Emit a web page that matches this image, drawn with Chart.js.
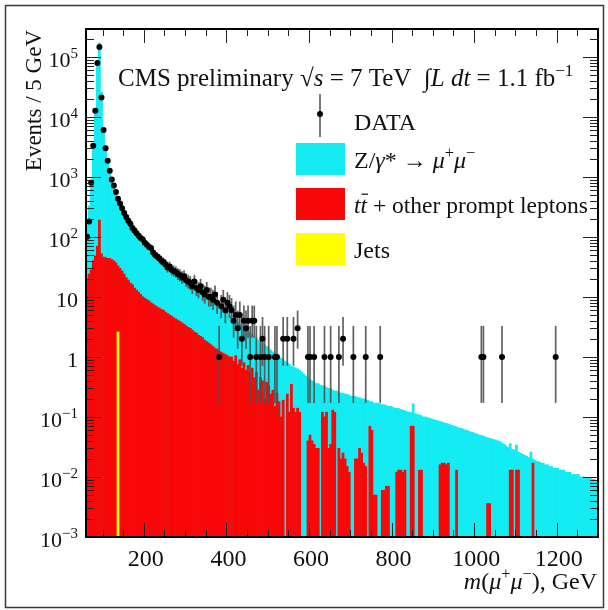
<!DOCTYPE html>
<html>
<head>
<meta charset="utf-8">
<script src="https://cdn.jsdelivr.net/npm/chart.js@4.4.1/dist/chart.umd.min.js"></script>
<style>
  body { margin: 0; background: #fff; }
  #wrap { width: 608px; height: 610px; position: relative; }
</style>
</head>
<body>
<div id="wrap"><canvas id="massChart"></canvas></div>
<script>
// 5 GeV bins starting at 60 GeV, one row = 50 GeV
const binLow = 60;
const binWidth = 5;

// top of the stacked MC (Z/gamma* + prompt + jets), events / 5 GeV
const mcTotal = [
  190, 330, 900, 3100, 11500, 72000, 170000, 26000, 6400, 3100,
  1800, 1250, 880, 700, 540, 440, 350, 290, 245, 210,
  180, 160, 142, 126, 112, 102, 93, 86, 78, 72,
  66, 60, 55, 50, 46, 42, 39, 36, 33, 31,
  29, 27, 25, 24, 22, 21, 19.5, 18.5, 17.5, 16.5,
  15.5, 14.6, 13.8, 13, 12.3, 11.6, 11, 10.4, 9.8, 9.3,
  8.8, 8.3, 7.8, 7.3, 6.9, 6.5, 6.1, 5.7, 5.3, 5.0,
  4.7, 4.4, 4.1, 3.8, 3.5, 3.3, 3.1, 2.9, 2.7, 2.5,
  2.35, 2.2, 2.05, 1.9, 1.8, 1.7, 1.6, 1.5, 1.4, 1.3,
  1.22, 1.15, 1.08, 1.0, 0.95, 0.9, 0.85, 0.8, 0.75, 0.7,
  0.68, 0.66, 0.63, 0.6, 0.56, 0.52, 0.48, 0.45, 0.42, 0.4,
  0.38, 0.36, 0.36, 0.34, 0.33, 0.33, 0.31, 0.30, 0.30, 0.28,
  0.27, 0.27, 0.26, 0.25, 0.25, 0.24, 0.24, 0.23, 0.22, 0.22,
  0.22, 0.21, 0.21, 0.20, 0.20, 0.19, 0.19, 0.18, 0.18, 0.17,
  0.17, 0.17, 0.165, 0.16, 0.16, 0.155, 0.15, 0.15, 0.145, 0.14,
  0.14, 0.138, 0.133, 0.13, 0.127, 0.122, 0.12, 0.118, 0.165, 0.113,
  0.11, 0.108, 0.105, 0.1, 0.1, 0.097, 0.095, 0.092, 0.09, 0.088,
  0.086, 0.084, 0.082, 0.08, 0.078, 0.076, 0.074, 0.072, 0.07, 0.068,
  0.066, 0.065, 0.063, 0.061, 0.06, 0.058, 0.056, 0.055, 0.053, 0.052,
  0.05, 0.049, 0.048, 0.046, 0.045, 0.044, 0.043, 0.042, 0.041, 0.04,
  0.039, 0.037, 0.035, 0.033, 0.031, 0.036, 0.029, 0.028, 0.034, 0.026,
  0.025, 0.024, 0.023, 0.022, 0.021, 0.026, 0.02, 0.019, 0.018, 0.018,
  0.017, 0.017, 0.016, 0.016, 0.015, 0.015, 0.014, 0.014, 0.014, 0.013,
  0.013, 0.013, 0.012, 0.012, 0.012, 0.011, 0.011, 0.011, 0.011, 0.010,
  0.010, 0.010, 0.0098, 0.0096, 0.0094, 0.0092, 0.009, 0.0088
];

// ttbar + other prompt leptons (0 = empty bin)
const prompt = [
  20, 24, 28, 40, 48, 70, 190, 52, 46, 45,
  44, 44, 42, 40, 37, 33, 30, 27, 24, 21,
  19, 17, 16, 14, 13, 12, 11, 10, 9.5, 9,
  8.6, 8, 7.6, 7.2, 6.8, 6.5, 6.2, 6, 5.6, 5.3,
  5, 4.8, 4.5, 4.3, 4.1, 3.9, 3.7, 3.5, 3.3, 3.1,
  3, 2.8, 2.6, 2.5, 2.3, 2.2, 2.1, 1.9, 1.8, 1.7,
  1.6, 1.5, 1.4, 1.35, 1.25, 1.2, 1.15, 1.1, 1.05, 1.0,
  1.0, 0.85, 1.05, 0.75, 0.9, 0.65, 0.8, 0.6, 0.72, 0.55,
  0.65, 0.45, 0.55, 0.28, 0.45, 0.4, 0.2, 0.38, 0.33, 0.24,
  0.28, 0.15, 0.25, 0.18, 0.1, 0.19, 0, 0.24, 0.12, 0.35,
  0.14, 0.12, 0.14, 0.12, 0, 0, 0, 0.04, 0.05, 0.04,
  0.035, 0.03, 0.03, 0, 0.12, 0.1, 0.12, 0.03, 0.035, 0.13,
  0.12, 0, 0.03, 0.02, 0.025, 0.02, 0.015, 0.012, 0, 0,
  0.02, 0.02, 0.03, 0.025, 0.017, 0.015, 0, 0.07, 0.06, 0.005,
  0.005, 0, 0, 0.006, 0.006, 0.007, 0.007, 0, 0, 0,
  0.012, 0.013, 0.013, 0.012, 0.013, 0, 0, 0.07, 0.07, 0,
  0, 0.013, 0.013, 0, 0, 0, 0, 0, 0, 0,
  0, 0.016, 0.017, 0.017, 0.016, 0.017, 0, 0, 0, 0.013,
  0, 0, 0, 0, 0, 0, 0, 0, 0, 0,
  0, 0, 0, 0, 0.0036, 0.0036, 0, 0, 0, 0,
  0, 0, 0, 0, 0, 0.013, 0.013, 0, 0.013, 0.013,
  0, 0, 0, 0, 0, 0, 0.017, 0, 0, 0
];

// jets: one filled bin
const jetsBinLow = [135];
const jetsEvents = [2.6];

// observed events per bin (0 = no point)
const dataEvents = [
  100, 180, 800, 3300, 12600, 79000, 145000, 21000, 6000, 3000,
  1850, 1260, 900, 720, 560, 430, 360, 300, 250, 215,
  185, 165, 140, 128, 115, 104, 96, 90, 80, 74,
  68, 65, 55, 50, 47, 44, 40, 38, 35, 31,
  32, 28, 27, 26, 24, 23, 21, 22, 19, 18,
  17, 15, 18, 14, 13, 15, 12, 11, 13, 10,
  10, 9, 11, 8, 1, 7, 9, 6, 8, 7,
  6, 4, 5, 3, 5, 2, 4, 3, 4, 1,
  4, 4, 1, 0, 1, 2, 1, 0, 1, 0,
  0, 1, 1, 0, 0, 2, 0, 2, 0, 0,
  2, 0, 3, 0, 0, 0, 0, 1, 1, 0,
  1, 0, 0, 0, 0, 1, 0, 0, 1, 0,
  0, 0, 1, 0, 2, 0, 0, 0, 0, 1,
  0, 0, 0, 0, 0, 1, 0, 0, 0, 0,
  0, 0, 1, 0, 0, 0, 0, 0, 0, 0,
  0, 0, 0, 0, 0, 0, 0, 0, 0, 0,
  0, 0, 0, 0, 0, 0, 0, 0, 0, 0,
  0, 0, 0, 0, 0, 0, 0, 0, 0, 0,
  0, 0, 0, 0, 0, 0, 0, 0, 0, 0,
  0, 1, 1, 0, 0, 0, 0, 0, 0, 0,
  0, 1, 0, 0, 0, 0, 0, 0, 0, 0,
  0, 0, 0, 0, 0, 0, 0, 0, 0, 0,
  0, 0, 0, 0, 0, 0, 0, 1, 0, 0
];

const xTickLabels = [200, 400, 600, 800, 1000, 1200];
const yDecades = [-3, -2, -1, 0, 1, 2, 3, 4, 5];

const SERIF = '"Liberation Serif", "DejaVu Serif", serif';
const CYAN = '#12ecf2';
const RED = '#f80808';
const YELLOW = '#ffff00';

const center = i => binLow + binWidth * (i + 0.5);
const toBars = arr => arr.map((v, i) => ({ x: center(i), y: v > 0 ? v : null }));

const dataPoints = [];
dataEvents.forEach((n, i) => { if (n > 0) dataPoints.push({ x: center(i), y: n }); });

// Poisson 68% interval (Wilson-Hilferty approximation)
function poissonLow(n) {
  return n * Math.pow(1 - 1 / (9 * n) - 1 / (3 * Math.sqrt(n)), 3);
}
function poissonHigh(n) {
  const m = n + 1;
  return m * Math.pow(1 - 1 / (9 * m) + 1 / (3 * Math.sqrt(m)), 3);
}

// draw text made of pieces: {t, it, sup, bar}
function drawRich(ctx, parts, x, y, size, align) {
  const fontOf = p => (p.it ? 'italic ' : '') + (p.sup ? size * 0.68 : size) + 'px ' + SERIF;
  let total = 0;
  const widths = parts.map(p => { ctx.font = fontOf(p); const w = ctx.measureText(p.t).width; total += w; return w; });
  let cx = align === 'right' ? x - total : align === 'center' ? x - total / 2 : x;
  parts.forEach((p, k) => {
    ctx.font = fontOf(p);
    ctx.textAlign = 'left';
    ctx.textBaseline = 'alphabetic';
    ctx.fillText(p.t, cx, p.sup ? y - size * 0.42 : y);
    if (p.bar) {
      ctx.save();
      ctx.lineWidth = 1.2;
      ctx.beginPath();
      const by = y - size * p.bar;
      ctx.moveTo(cx + 1, by);
      ctx.lineTo(cx + widths[k] + 1, by);
      ctx.stroke();
      ctx.restore();
    }
    cx += widths[k];
  });
}

const errorBars = {
  id: 'errorBars',
  beforeDatasetDraw(chart, args) {
    if (args.index !== 0) return;
    const { ctx, chartArea: a, scales: { x, y } } = chart;
    ctx.save();
    ctx.beginPath();
    ctx.rect(a.left, a.top, a.right - a.left, a.bottom - a.top);
    ctx.clip();
    ctx.strokeStyle = 'rgba(80,80,80,0.9)';
    ctx.lineWidth = 1.7;
    dataPoints.forEach(p => {
      const px = x.getPixelForValue(p.x);
      ctx.beginPath();
      ctx.moveTo(px, y.getPixelForValue(poissonLow(p.y)));
      ctx.lineTo(px, y.getPixelForValue(poissonHigh(p.y)));
      ctx.stroke();
    });
    ctx.restore();
  }
};

const frame = {
  id: 'frame',
  afterDraw(chart) {
    const { ctx, chartArea: a, scales: { x, y } } = chart;
    const seg = (x1, y1, x2, y2) => { ctx.beginPath(); ctx.moveTo(x1, y1); ctx.lineTo(x2, y2); ctx.stroke(); };
    ctx.save();
    ctx.strokeStyle = '#222';
    ctx.lineWidth = 1;
    // log ticks on both sides
    yDecades.forEach(e => {
      for (let m = 1; m <= 9; m++) {
        const v = m * Math.pow(10, e);
        if (v > y.max) break;
        const py = Math.round(y.getPixelForValue(v)) + 0.5;
        const len = m === 1 ? 15 : 8;
        seg(a.left, py, a.left + len, py);
        seg(a.right, py, a.right - len, py);
      }
    });
    for (let v = 100; v < x.max; v += 50) {
      const px = Math.round(x.getPixelForValue(v)) + 0.5;
      const len = v % 200 === 0 ? 14 : 7;
      seg(px, a.bottom, px, a.bottom - len);
      seg(px, a.top, px, a.top + len);
    }
    ctx.lineWidth = 2;
    ctx.strokeStyle = '#000';
    ctx.strokeRect(a.left, a.top, a.right - a.left, a.bottom - a.top);
    // outer border of the picture
    ctx.lineWidth = 1.5;
    ctx.strokeStyle = '#3a3a3a';
    ctx.strokeRect(5.5, 5.5, 598, 602);

    ctx.fillStyle = '#111';
    ctx.strokeStyle = '#111';
    // y tick labels
    yDecades.forEach(e => {
      const py = y.getPixelForValue(Math.pow(10, e)) + 10;
      if (e === 0) drawRich(ctx, [{ t: '1' }], 78, py, 22, 'right');
      else if (e === 1) drawRich(ctx, [{ t: '10' }], 78, py, 22, 'right');
      else drawRich(ctx, [{ t: '10' }, { t: (e < 0 ? '\u2212' : '') + Math.abs(e), sup: true }], 78, py, 22, 'right');
    });
    // x tick labels
    xTickLabels.forEach(v => {
      drawRich(ctx, [{ t: String(v) }], x.getPixelForValue(v) + 2, 566, 24, 'center');
    });
    // axis titles
    drawRich(ctx, [{ t: 'm', it: true }, { t: '(' }, { t: '\u03bc', it: true }, { t: '+', sup: true },
      { t: '\u03bc', it: true }, { t: '\u2212', sup: true }, { t: '), GeV' }], 597, 589, 24, 'right');
    ctx.save();
    ctx.translate(41, 30);
    ctx.rotate(-Math.PI / 2);
    drawRich(ctx, [{ t: 'Events / 5 GeV' }], 0, 0, 23, 'right');
    ctx.restore();

    // header
    drawRich(ctx, [{ t: 'CMS preliminary ' }, { t: '\u221a' }, { t: 's', it: true },
      { t: ' = 7 TeV  ' }, { t: '\u222b' }, { t: 'L dt', it: true }, { t: ' = 1.1 fb' }, { t: '\u22121', sup: true }],
      118, 86, 25, 'left');

    // legend
    const lx = 296, lw = 49, lh = 32, tx = 354;
    ctx.strokeStyle = 'rgba(80,80,80,0.9)';
    ctx.lineWidth = 1.7;
    seg(320, 94, 320, 137);
    ctx.fillStyle = '#000';
    ctx.beginPath(); ctx.arc(320, 114, 3, 0, Math.PI * 2); ctx.fill();
    ctx.fillStyle = '#111';
    ctx.strokeStyle = '#111';
    drawRich(ctx, [{ t: 'DATA' }], tx, 130, 24, 'left');
    ctx.fillStyle = CYAN; ctx.fillRect(lx, 143, lw, lh);
    ctx.fillStyle = RED; ctx.fillRect(lx, 188, lw, lh);
    ctx.fillStyle = YELLOW; ctx.fillRect(lx, 233, lw, lh);
    ctx.fillStyle = '#111';
    drawRich(ctx, [{ t: 'Z/' }, { t: '\u03b3', it: true }, { t: '* \u2192 ' }, { t: '\u03bc', it: true }, { t: '+', sup: true },
      { t: '\u03bc', it: true }, { t: '\u2212', sup: true }], tx, 168, 24, 'left');
    drawRich(ctx, [{ t: 't', it: true }, { t: 't', it: true, bar: 0.8 }, { t: ' + other prompt leptons' }], tx, 213, 23.5, 'left');
    drawRich(ctx, [{ t: 'Jets' }], tx, 258, 24, 'left');
    ctx.restore();
  }
};

new Chart(document.getElementById('massChart'), {
  type: 'bar',
  data: {
    datasets: [
      {
        type: 'scatter',
        label: 'DATA',
        data: dataPoints,
        pointRadius: 3,
        pointBackgroundColor: '#000',
        pointBorderWidth: 0,
        order: 0
      },
      {
        label: 'Jets',
        data: jetsBinLow.map((b, i) => ({ x: b + binWidth / 2, y: jetsEvents[i] })),
        backgroundColor: YELLOW,
        order: 1
      },
      {
        label: 'tt + other prompt leptons',
        data: toBars(prompt),
        backgroundColor: RED,
        order: 2
      },
      {
        label: 'Z/gamma* -> mumu',
        data: toBars(mcTotal),
        backgroundColor: CYAN,
        order: 3
      }
    ]
  },
  options: {
    responsive: true,
    maintainAspectRatio: false,
    animation: false,
    layout: { padding: { left: 86, top: 29, right: 10, bottom: 73 } },
    datasets: { bar: { grouped: false, barPercentage: 1, categoryPercentage: 1, borderWidth: 0 } },
    scales: {
      x: { type: 'linear', min: 60, max: 1300, offset: false, display: false },
      y: { type: 'logarithmic', min: 1e-3, max: 2.9e5, display: false }
    },
    plugins: { legend: { display: false }, tooltip: { enabled: false } }
  },
  plugins: [errorBars, frame]
});
</script>
</body>
</html>
